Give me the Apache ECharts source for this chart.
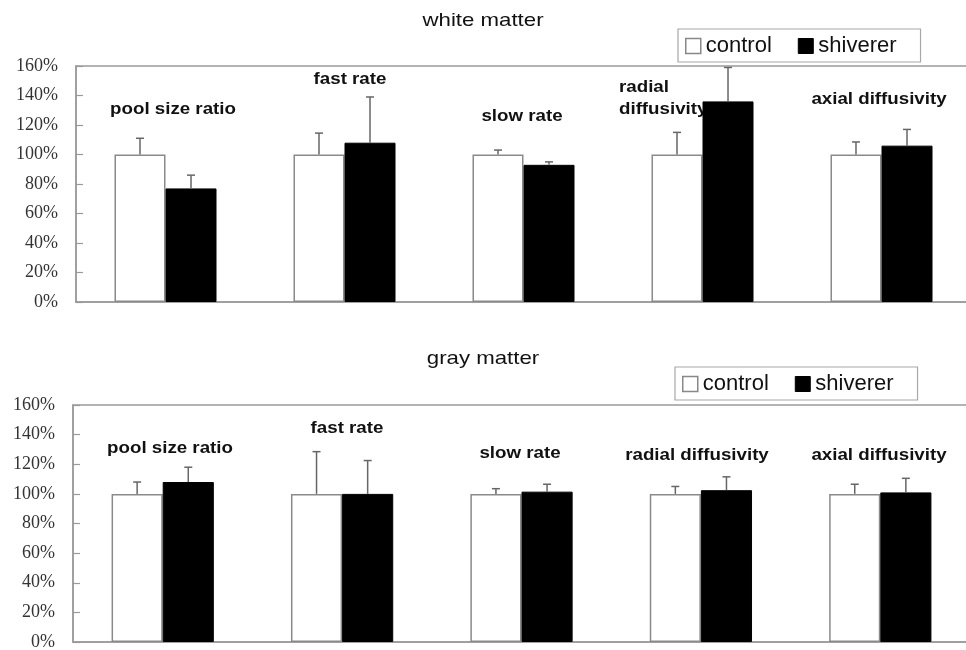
<!DOCTYPE html>
<html>
<head>
<meta charset="utf-8">
<script src="https://cdn.jsdelivr.net/npm/echarts@6/dist/echarts.min.js"></script>
<style>
  html, body { margin: 0; padding: 0; background: #fff; }
  #chart { width: 966px; height: 650px; }
</style>
</head>
<body>
<div id="chart"></div>
<script>
// Measures shown in each panel (percent of control)
const categories = ['pool size ratio', 'fast rate', 'slow rate', 'radial diffusivity', 'axial diffusivity'];
const seriesNames = ['control', 'shiverer'];

// white matter panel
const whiteControl = [100, 100, 100, 100, 100];
const whiteControlErr = [11, 14.5, 3, 15, 8.5];
const whiteShiverer = [77, 108, 93, 136, 106];
const whiteShivererErr = [9, 31, 2, 23, 11];

// gray matter panel
const grayControl = [100, 100, 100, 100, 100];
const grayControlErr = [8, 28.5, 3.5, 5, 6.5];
const grayShiverer = [108, 100, 101.5, 102.5, 101];
const grayShivererErr = [10, 22.5, 5, 9, 9.5];

// value axis: 0% .. 160% every 20%
const yMin = 0, yMax = 160, yStep = 20;

const panelTitles = ['white matter', 'gray matter'];

const CAT_GAP = 0.43;
const AXIS_GRAY = '#9a9a9a';
const LABEL_FONT = 'Liberation Sans, Arial, sans-serif';

function errorBarRenderer(side) {
  return function (params, api) {
    const idx = api.value(0);
    const mean = api.value(1);
    const err = api.value(2);
    const base = api.coord([idx, mean]);
    const top = api.coord([idx, mean + err]);
    const barW = api.size([1, 0])[0] * (1 - CAT_GAP) / 2;
    const x = base[0] + side * barW / 2;
    const st = { stroke: '#666666', lineWidth: 1.5 };
    return {
      type: 'group',
      children: [
        { type: 'line', shape: { x1: x, y1: base[1], x2: x, y2: top[1] }, style: st },
        { type: 'line', shape: { x1: x - 4, y1: top[1], x2: x + 4, y2: top[1] }, style: st }
      ]
    };
  };
}

function errData(means, errs) {
  return means.map((m, i) => [i, m, errs[i]]);
}

function panelSeries(gi, ctrl, ctrlErr, shiv, shivErr) {
  return [
    {
      name: 'control', type: 'bar', xAxisIndex: gi, yAxisIndex: gi,
      data: ctrl, barGap: '0%', barCategoryGap: (CAT_GAP * 100) + '%',
      itemStyle: { color: '#ffffff', borderColor: '#8a8a8a', borderWidth: 1.5 },
      emphasis: { disabled: true }, animation: false
    },
    {
      name: 'shiverer', type: 'bar', xAxisIndex: gi, yAxisIndex: gi,
      data: shiv, barGap: '0%', barCategoryGap: (CAT_GAP * 100) + '%',
      itemStyle: { color: '#000000', borderColor: '#000000', borderWidth: 1 },
      emphasis: { disabled: true }, animation: false
    },
    {
      type: 'custom', xAxisIndex: gi, yAxisIndex: gi, z: 5,
      renderItem: errorBarRenderer(-1), data: errData(ctrl, ctrlErr),
      encode: { x: 0, y: 1 }, silent: true, animation: false, clip: false
    },
    {
      type: 'custom', xAxisIndex: gi, yAxisIndex: gi, z: 5,
      renderItem: errorBarRenderer(1), data: errData(shiv, shivErr),
      encode: { x: 0, y: 1 }, silent: true, animation: false, clip: false
    }
  ];
}

function xAxisFor(gi) {
  return {
    type: 'category', gridIndex: gi, data: categories,
    axisLine: { show: true, lineStyle: { color: AXIS_GRAY, width: 1.5 } },
    axisTick: { show: false }, axisLabel: { show: false }, splitLine: { show: false }
  };
}

function yAxisFor(gi) {
  return {
    type: 'value', gridIndex: gi, min: yMin, max: yMax, interval: yStep,
    axisLine: { show: true, lineStyle: { color: AXIS_GRAY, width: 1.5 } },
    axisTick: { show: true, inside: true, length: 7, lineStyle: { color: AXIS_GRAY, width: 1.2 } },
    axisLabel: {
      formatter: '{value}%', margin: 18,
      fontFamily: 'Liberation Serif, Times New Roman, serif', fontSize: 18, color: '#333'
    },
    splitLine: { show: false }
  };
}

function legendFor(left, top) {
  return {
    left: left, top: top, orient: 'horizontal',
    padding: [6, 24, 5, 7], itemGap: 26, itemWidth: 15, itemHeight: 15,
    borderColor: '#a8a8a8', borderWidth: 1.2, backgroundColor: '#fff',
    icon: 'rect', selectedMode: false,
    textStyle: { fontFamily: LABEL_FONT, fontSize: 22, color: '#111', lineHeight: 16 },
    data: [
      { name: seriesNames[0], itemStyle: { color: '#fff', borderColor: '#888', borderWidth: 1.5 } },
      { name: seriesNames[1], itemStyle: { color: '#000', borderColor: '#000', borderWidth: 1 } }
    ]
  };
}

// text helper: horizontally stretched label anchored at (x, y)
function label(text, x, y, size, weight, align) {
  return {
    type: 'text', x: x, y: y, scaleX: 1.17, scaleY: 1, silent: true,
    style: {
      text: text, x: 0, y: 0, fontFamily: LABEL_FONT, fontSize: size, fontWeight: weight,
      fill: '#111', align: align || 'center', verticalAlign: 'middle'
    }
  };
}

const catLabelsWhite = [
  label(categories[0], 173, 110, 16, 'bold'),
  label(categories[1], 350, 80, 16, 'bold'),
  label(categories[2], 522, 117, 16, 'bold'),
  label(categories[3].split(' ')[0], 619, 88, 16, 'bold', 'left'),
  label(categories[3].split(' ')[1], 619, 110, 16, 'bold', 'left'),
  label(categories[4], 879, 100, 16, 'bold')
];
const catLabelsGray = [
  label(categories[0], 170, 449, 16, 'bold'),
  label(categories[1], 347, 429, 16, 'bold'),
  label(categories[2], 520, 454, 16, 'bold'),
  label(categories[3], 697, 456, 16, 'bold'),
  label(categories[4], 879, 456, 16, 'bold')
];

const gridBase = {
  show: true, borderColor: AXIS_GRAY, borderWidth: 1.5, backgroundColor: 'transparent',
  containLabel: false, outerBoundsMode: 'none'
};

const chart = echarts.init(document.getElementById('chart'), null, { renderer: 'canvas' });
chart.setOption({
  backgroundColor: '#ffffff',
  animation: false,
  grid: [
    Object.assign({ left: 76, top: 66, width: 895, height: 236 }, gridBase),
    Object.assign({ left: 73, top: 405, width: 897, height: 237 }, gridBase)
  ],
  xAxis: [xAxisFor(0), xAxisFor(1)],
  yAxis: [yAxisFor(0), yAxisFor(1)],
  legend: [legendFor(678, 29), legendFor(675, 367)],
  series: [].concat(
    panelSeries(0, whiteControl, whiteControlErr, whiteShiverer, whiteShivererErr),
    panelSeries(1, grayControl, grayControlErr, grayShiverer, grayShivererErr)
  ),
  graphic: [
    label(panelTitles[0], 483, 21, 19, 'normal'),
    label(panelTitles[1], 483, 359, 19, 'normal')
  ].concat(catLabelsWhite, catLabelsGray)
});
</script>
</body>
</html>
